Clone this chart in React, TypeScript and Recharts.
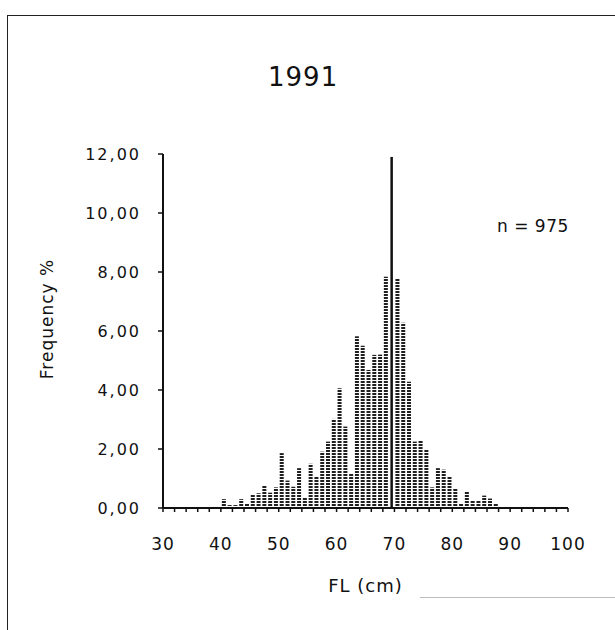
import { Bar, BarChart, XAxis, YAxis, Label } from 'recharts';

// FL classes (lower bound, cm) and frequency %
const flClasses = [
  40, 41, 42, 43, 44, 45, 46, 47, 48, 49,
  50, 51, 52, 53, 54, 55, 56, 57, 58, 59,
  60, 61, 62, 63, 64, 65, 66, 67, 68, 69,
  70, 71, 72, 73, 74, 75, 76, 77, 78, 79,
  80, 81, 82, 83, 84, 85, 86, 87,
];
const frequency = [
  0.3, 0.1, 0.1, 0.3, 0.15, 0.47, 0.5, 0.78, 0.52, 0.7,
  1.86, 0.93, 0.72, 1.35, 0.36, 1.5, 1.06, 1.91, 2.25, 3.02,
  4.06, 2.76, 1.16, 5.82, 5.5, 4.68, 5.19, 5.2, 7.84, 11.9,
  7.79, 6.28, 4.28, 2.25, 2.3, 2.0, 0.7, 1.35, 1.3, 1.05,
  0.65, 0.15, 0.55, 0.27, 0.27, 0.42, 0.32, 0.17,
];
const xTicks = [30, 32, 34, 36, 38, 40, 42, 44, 46, 48, 50, 52, 54, 56, 58, 60, 62, 64, 66, 68, 70, 72, 74, 76, 78, 80, 82, 84, 86, 88, 90, 92, 94, 96, 98, 100];
const yTicks = [0, 2, 4, 6, 8, 10, 12];

const chartData = flClasses.map((fl, i) => ({ fl, mid: fl + 0.5, freq: frequency[i] }));
const peak = Math.max(...frequency);

const font = '"DejaVu Sans", sans-serif';

const StippleBar = (props: any) => {
  const { x, y, width, height, payload } = props;
  if (!height || height <= 0) return null;
  if (payload.freq === peak) {
    // the tallest class is drawn as a thin solid bar in the original
    return <rect x={x + width / 2 - 1.25} y={y} width={2.5} height={height} fill="#111" />;
  }
  return <rect x={x} y={y} width={width} height={height} fill="url(#stipple)" />;
};

export default function App() {
  return (
    <div style={{ position: 'absolute', left: 0, top: 0, width: 615, height: 630, background: '#fff', fontFamily: font, color: '#111' }}>
      {/* frame */}
      <div style={{ position: 'absolute', left: 7, top: 15, width: 608, borderTop: '1.5px solid #222' }} />
      <div style={{ position: 'absolute', left: 7, top: 15, height: 615, borderLeft: '1.5px solid #222' }} />
      <div style={{ position: 'absolute', left: 420, top: 597, width: 195, borderTop: '1px solid #bbb' }} />

      <div style={{ position: 'absolute', left: 268, top: 62, fontSize: 26, lineHeight: '30px', letterSpacing: 1 }}>1991</div>
      <div style={{ position: 'absolute', left: 497, top: 215, fontSize: 17, lineHeight: '22px', letterSpacing: 0.5 }}>n = 975</div>

      <BarChart
        width={615}
        height={630}
        data={chartData}
        margin={{ top: 154, right: 47, bottom: 20, left: 20 }}
        barSize={4}
      >
        <defs>
          <pattern id="stipple" patternUnits="userSpaceOnUse" width="1" height="3">
            <rect x="0" y="0" width="1" height="2" fill="#1f1f1f" />
          </pattern>
        </defs>
        <XAxis
          dataKey="mid"
          type="number"
          domain={[30, 100]}
          ticks={xTicks}
          interval={0}
          height={102}
          tickFormatter={(v: number) => (v % 10 === 0 ? String(v) : '')}
          axisLine={{ stroke: '#111', strokeWidth: 2 }}
          tickLine={{ stroke: '#111', strokeWidth: 1.5 }}
          tickSize={4}
          tickMargin={26}
          tick={{ fill: '#111', fontSize: 17, fontFamily: font, letterSpacing: 1 }}
        >
          <Label value="FL (cm)" position="insideBottom" offset={18} style={{ fontSize: 18, fontFamily: font, fill: '#111', letterSpacing: 1 }} />
        </XAxis>
        <YAxis
          type="number"
          domain={[0, 12]}
          ticks={yTicks}
          width={143}
          tickFormatter={(v: number) => v.toFixed(2).replace('.', ',')}
          axisLine={{ stroke: '#111', strokeWidth: 2 }}
          tickLine={{ stroke: '#111', strokeWidth: 1.5 }}
          tickSize={5}
          tickMargin={17}
          tick={{ fill: '#111', fontSize: 16, fontFamily: font, letterSpacing: 2 }}
        >
          <Label
            value="Frequency %"
            angle={-90}
            position="insideLeft"
            offset={27}
            dy={-12}
            style={{ textAnchor: 'middle', fontSize: 17, fontFamily: font, fill: '#111', letterSpacing: 1 }}
          />
        </YAxis>
        <Bar dataKey="freq" shape={StippleBar} isAnimationActive={false} />
      </BarChart>
    </div>
  );
}
